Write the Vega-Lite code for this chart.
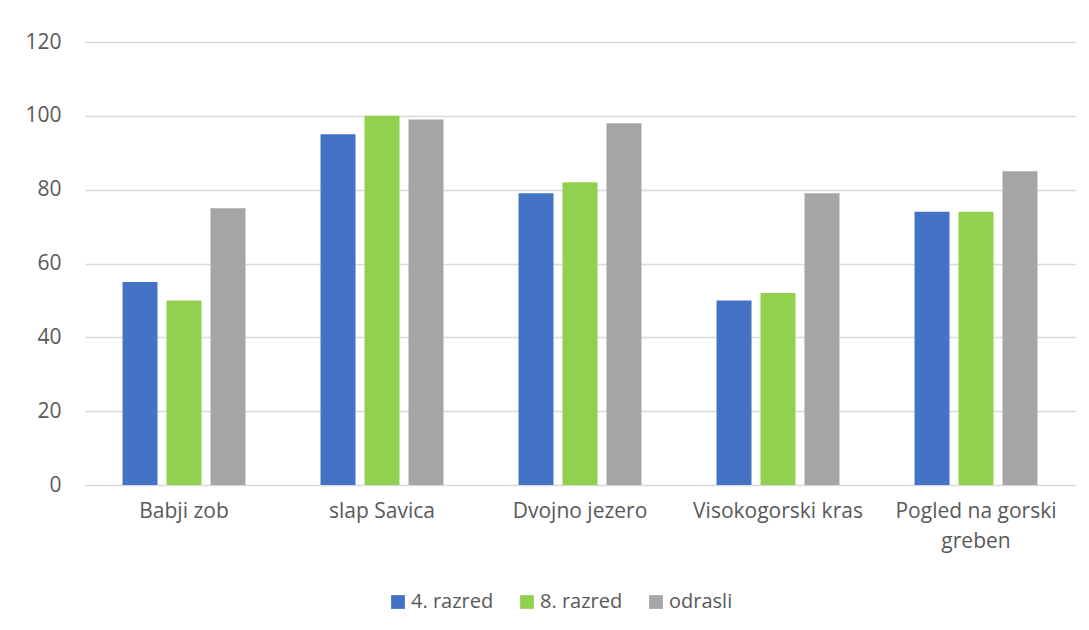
{
  "$schema": "https://vega.github.io/schema/vega-lite/v6.json",
  "autosize": {"type": "none"},
  "width": 990,
  "height": 443,
  "padding": {"left": 85, "top": 42, "right": 14, "bottom": 145},
  "background": "white",
  "data": {
    "values": [
      {"kraj": "Babji zob", "skupina": "4. razred", "vrednost": 55},
      {"kraj": "Babji zob", "skupina": "8. razred", "vrednost": 50},
      {"kraj": "Babji zob", "skupina": "odrasli", "vrednost": 75},
      {"kraj": "slap Savica", "skupina": "4. razred", "vrednost": 95},
      {"kraj": "slap Savica", "skupina": "8. razred", "vrednost": 100},
      {"kraj": "slap Savica", "skupina": "odrasli", "vrednost": 99},
      {"kraj": "Dvojno jezero", "skupina": "4. razred", "vrednost": 79},
      {"kraj": "Dvojno jezero", "skupina": "8. razred", "vrednost": 82},
      {"kraj": "Dvojno jezero", "skupina": "odrasli", "vrednost": 98},
      {"kraj": "Visokogorski kras", "skupina": "4. razred", "vrednost": 50},
      {"kraj": "Visokogorski kras", "skupina": "8. razred", "vrednost": 52},
      {"kraj": "Visokogorski kras", "skupina": "odrasli", "vrednost": 79},
      {"kraj": "Pogled na gorski greben", "skupina": "4. razred", "vrednost": 74},
      {"kraj": "Pogled na gorski greben", "skupina": "8. razred", "vrednost": 74},
      {"kraj": "Pogled na gorski greben", "skupina": "odrasli", "vrednost": 85}
    ]
  },
  "mark": {"type": "bar"},
  "encoding": {
    "x": {
      "field": "kraj",
      "type": "nominal",
      "sort": null,
      "title": null,
      "scale": {"paddingInner": 0.379, "paddingOuter": 0.1895},
      "axis": {
        "labelAngle": 0,
        "ticks": false,
        "domain": false,
        "grid": false,
        "labelFont": "Open Sans",
        "labelFontSize": 21,
        "labelColor": "#595959",
        "labelPadding": 15,
        "labelLineHeight": 30,
        "labelBaseline": "top",
        "labelExpr": "datum.label == 'Pogled na gorski greben' ? ['Pogled na gorski', 'greben'] : datum.label"
      }
    },
    "xOffset": {
      "field": "skupina",
      "type": "nominal",
      "scale": {"paddingInner": 0.2045, "paddingOuter": 0}
    },
    "y": {
      "field": "vrednost",
      "type": "quantitative",
      "title": null,
      "scale": {"domain": [0, 120], "nice": false},
      "axis": {
        "values": [0, 20, 40, 60, 80, 100, 120],
        "ticks": false,
        "domain": false,
        "gridColor": "#d9d9d9",
        "gridWidth": 1.5,
        "labelFont": "Open Sans",
        "labelFontSize": 21,
        "labelColor": "#595959",
        "labelPadding": 24
      }
    },
    "color": {
      "field": "skupina",
      "type": "nominal",
      "title": null,
      "scale": {"domain": ["4. razred", "8. razred", "odrasli"], "range": ["#4472C4", "#92D050", "#A5A5A5"]},
      "legend": {
        "orient": "none",
        "legendX": 303,
        "legendY": 550,
        "direction": "horizontal",
        "symbolType": "square",
        "symbolSize": 190,
        "symbolStrokeWidth": 0,
        "labelFont": "Open Sans",
        "labelFontSize": 20,
        "labelColor": "#595959",
        "columnPadding": 23,
        "labelOffset": 3
      }
    }
  },
  "config": {
    "view": {"stroke": null}
  }
}
